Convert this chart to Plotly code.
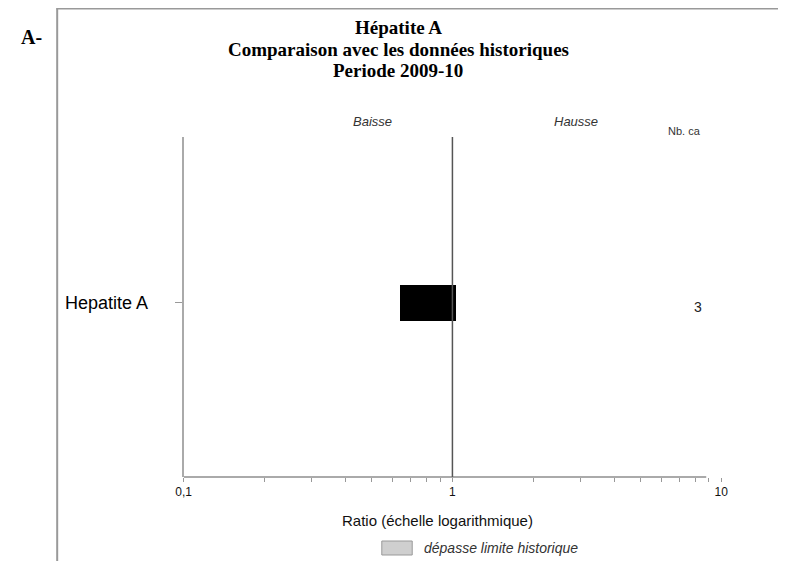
import plotly.graph_objects as go

categories = ["Hepatite A"]
ratio_start = [0.635]
ratio_end = [1.03]
nb_cas = [3]
tick_values = [0.1, 0.2, 0.3, 0.4, 0.5, 0.6, 0.7, 0.8, 0.9, 1,
               2, 3, 4, 5, 6, 7, 8, 9, 10]
tick_labels = ["0,1", "", "", "", "", "", "", "", "", "1",
               "", "", "", "", "", "", "", "", "10"]

# page has an 8px body margin: figure is 778x553 and coordinates below are figure pixels
W, H = 778, 553
def px(x):
    return x / W
def py(y):
    return 1 - y / H

x0, x1 = 171, 719
y0, y1 = 129, 469

fig = go.Figure()
fig.add_trace(go.Bar(
    y=categories,
    x=[e - s for s, e in zip(ratio_start, ratio_end)],
    base=ratio_start,
    orientation="h",
    width=0.106,
    marker=dict(color="black", line=dict(width=0)),
    showlegend=False,
))

sans = "Liberation Sans, Arial, sans-serif"
serif = "Liberation Serif, Times New Roman, serif"

annotations = [
    dict(x=px(390), y=py(19), text="<b>Hépatite A</b>", font=dict(family=serif, size=19, color="black")),
    dict(x=px(390), y=py(41), text="<b>Comparaison avec les données historiques</b>", font=dict(family=serif, size=19, color="black")),
    dict(x=px(390), y=py(63), text="<b>Periode 2009-10</b>", font=dict(family=serif, size=19, color="black")),
    dict(x=px(16), y=py(29), text="<b>A-</b>", font=dict(family=serif, size=20, color="black")),
    dict(x=px(363), y=py(113), text="<i>Baisse</i>", font=dict(family=sans, size=13, color="#333")),
    dict(x=px(571), y=py(113), text="<i>Hausse</i>", font=dict(family=sans, size=13, color="#333")),
    dict(x=px(682), y=py(123), text="Nb. ca", font=dict(family=sans, size=11, color="#333")),
    dict(x=px(695), y=py(299), text=str(nb_cas[0]), font=dict(family=sans, size=14, color="#222")),
    dict(x=px(430), y=py(512), text="Ratio (échelle logarithmique)", font=dict(family=sans, size=15, color="#111")),
    dict(x=px(414), y=py(540), xanchor="left", text="<i>dépasse limite historique</i>", font=dict(family=sans, size=14, color="#333")),
]
for a in annotations:
    a.setdefault("xanchor", "center")
    a.update(xref="paper", yref="paper", yanchor="middle", showarrow=False)

shapes = [
    # outer frame
    dict(type="line", xref="paper", yref="paper", x0=px(42), x1=px(42), y0=py(553), y1=py(0.5),
         line=dict(color="#999", width=2)),
    dict(type="line", xref="paper", yref="paper", x0=px(41), x1=px(778), y0=py(0.5), y1=py(0.5),
         line=dict(color="#999", width=2)),
    # bottom axis line
    dict(type="line", xref="x", yref="y domain", x0=0.1, x1=8.8, y0=0, y1=0,
         line=dict(color="#aaa", width=2)),
    # reference line at 1
    dict(type="line", xref="x", yref="y domain", x0=1, x1=1, y0=0, y1=1,
         line=dict(color="#555", width=1.5)),
    # legend box
    dict(type="rect", xref="paper", yref="paper", x0=px(373), x1=px(404), y0=py(547), y1=py(533),
         fillcolor="#cfcfcf", line=dict(color="#999", width=1)),
]

fig.update_layout(
    width=W, height=H,
    margin=dict(l=0, r=0, t=0, b=0),
    paper_bgcolor="white", plot_bgcolor="white",
    annotations=annotations,
    shapes=shapes,
    bargap=0,
    xaxis=dict(
        type="log", range=[-1, 1],
        domain=[px(x0), px(x1)],
        showgrid=False, zeroline=False, showline=False,
        tickvals=tick_values, ticktext=tick_labels,
        ticks="outside", ticklen=4, tickcolor="#999", tickwidth=1,
        tickfont=dict(family=sans, size=12, color="#111"),
        anchor="y",
    ),
    yaxis=dict(
        domain=[py(y1), py(y0)],
        range=[-0.512, 0.488],
        showgrid=False, zeroline=False,
        showline=True, linecolor="#aaa", linewidth=2,
        ticks="outside", ticklen=7, tickcolor="#999",
        ticklabelstandoff=23,
        tickfont=dict(family=sans, size=18, color="black"),
        anchor="x",
    ),
)

fig.write_html("out.html")
